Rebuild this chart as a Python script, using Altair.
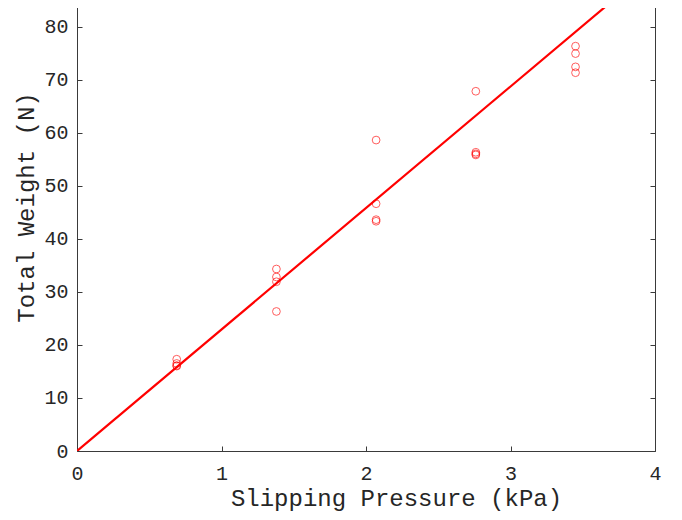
import altair as alt
import pandas as pd

pressure_kpa = [0.69, 0.69, 0.69, 0.69,
                1.38, 1.38, 1.38, 1.38,
                2.07, 2.07, 2.07, 2.07,
                2.76, 2.76, 2.76, 2.76,
                3.45, 3.45, 3.45, 3.45]
total_weight = [17.3, 16.5, 16.1, 16.0,
                34.3, 32.8, 31.9, 26.3,
                58.6, 46.6, 43.6, 43.3,
                67.8, 56.3, 56.0, 55.8,
                76.3, 74.9, 72.4, 71.3]

# Fitted line through origin (slope)
fit_slope = 22.9
fit_x = [0.0, 4.0]
fit_y = [fit_slope * v for v in fit_x]

x_ticks = [0, 1, 2, 3, 4]
y_ticks = [0, 10, 20, 30, 40, 50, 60, 70, 80]

FONT = "Liberation Mono"
TXT = "#262626"
LINE = "#3a3a3a"

pts = pd.DataFrame({"p": pressure_kpa, "w": total_weight})
fit = pd.DataFrame({"p": fit_x, "w": fit_y})

xs = alt.Scale(domain=[0, 4], nice=False, zero=False)
ys = alt.Scale(domain=[0, 85], nice=False, zero=False)

points = alt.Chart(pts).mark_point(
    shape="circle", filled=False, color="#ff0000", size=60, strokeWidth=0.9
).encode(
    x=alt.X("p:Q", scale=xs, axis=alt.Axis(
        orient="bottom", values=x_ticks, format="d", domain=False, grid=False,
        ticks=True, tickSize=5, offset=-5, tickColor=LINE, labelFlush=False,
        labelPadding=12, labelFontSize=20, labelFont=FONT, labelColor=TXT,
        title="Slipping Pressure (kPa)", titleFont=FONT, titleFontSize=24,
        titleFontWeight="normal", titleColor=TXT,
        titleX=319, titleY=59, titleBaseline="alphabetic", titleAnchor="middle")),
    y=alt.Y("w:Q", scale=ys, axis=alt.Axis(
        orient="left", values=y_ticks, format="d", domain=False, grid=False,
        ticks=True, tickSize=5, offset=-5, tickColor=LINE, labelFlush=False,
        labelPadding=9, labelFontSize=20, labelFont=FONT, labelColor=TXT,
        title="Total Weight (N)", titleFont=FONT, titleFontSize=24,
        titleFontWeight="normal", titleColor=TXT,
        titleX=-49, titleY=207, titleBaseline="alphabetic", titleAnchor="middle")),
)

line = alt.Chart(fit).mark_line(color="#ff0000", strokeWidth=2.2, clip=True).encode(
    x=alt.X("p:Q", scale=xs, axis=alt.Axis(
        orient="top", values=x_ticks, labels=False, domain=False, grid=False,
        ticks=True, tickSize=5, offset=-5, tickColor=LINE, title=None)),
    y=alt.Y("w:Q", scale=ys, axis=alt.Axis(
        orient="right", values=y_ticks, labels=False, domain=False, grid=False,
        ticks=True, tickSize=5, offset=-5, tickColor=LINE, title=None)),
)

chart = alt.layer(points, line).resolve_axis(x="independent", y="independent").properties(
    width=578, height=451,
    padding={"left": 69, "top": -8, "right": 19, "bottom": 60},
    autosize=alt.AutoSizeParams(type="none"),
    background="white",
).configure_view(stroke=LINE, strokeWidth=1)

chart.save("out.html", embed_options={"renderer": "svg", "actions": False})
